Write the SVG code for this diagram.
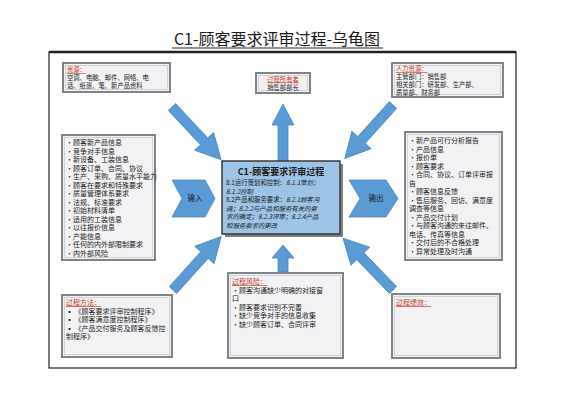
<svg xmlns="http://www.w3.org/2000/svg" width="565" height="400" viewBox="0 0 565 400">
<style>
text{font-family:"Noto Sans CJK SC","Noto Sans",sans-serif;fill:#1a1a1a}
.s{font-size:7px}
.t{font-size:6.3px}
.c{font-size:6.4px}
.r{fill:#c0392b;text-decoration:underline}
.box{fill:#f2f2f4;stroke:#7f8488;stroke-width:2}
.inner{fill:none;stroke:#c8cbce;stroke-width:0.8}
.arr{fill:#5b9bd5;stroke:#4a86bf;stroke-width:0.8}
</style>
<defs>
<path id="diag" d="M0,-5 L47,-5 L47,-13 L72,0 L47,13 L47,5 L0,5 Z"/>
</defs>
<rect width="565" height="400" fill="#ffffff"/>
<text x="277" y="45" text-anchor="middle" font-size="16" fill="#222">C1-顾客要求评审过程-乌龟图</text>
<line x1="172" y1="48" x2="383" y2="48" stroke="#222" stroke-width="1"/>
<rect x="49" y="52" width="467" height="316" fill="none" stroke="#222" stroke-width="1.2"/>
<line x1="49" y1="52" x2="516" y2="52" stroke="#222" stroke-width="2.5"/>

<g id="connectors">
<use href="#diag" class="arr" transform="translate(172,107) rotate(47)"/>
<use href="#diag" class="arr" transform="translate(393,105) rotate(132)"/>
<use href="#diag" class="arr" transform="translate(173,290) rotate(-48)"/>
<use href="#diag" class="arr" transform="translate(393,290) rotate(-134)"/>
<path class="arr" d="M278,162 L278,125 L272,125 L283,104 L294,125 L288,125 L288,162 Z"/>
<path class="arr" d="M278,272 L278,258 L272,258 L283,245 L294,258 L288,258 L288,272 Z"/>
</g>

<g id="input">
<path class="arr" d="M172,180 L205,180 L215,198.5 L205,217 L172,217 L182,198.5 Z"/>
<text x="195" y="201" text-anchor="middle" font-size="7.5">输入</text>
</g>
<g id="output">
<path class="arr" d="M349,180 L386,180 L398,198.5 L386,217 L349,217 L360,198.5 Z"/>
<text x="376" y="201" text-anchor="middle" font-size="7.5">输出</text>
</g>

<g id="resources">
<rect class="box" x="63" y="63" width="107" height="29"/>
<rect class="inner" x="65.5" y="65.5" width="102" height="24"/>
<text class="t r" x="67" y="72">资源：</text>
<text class="t" x="67" y="80">空调、电脑、邮件、网络、电</text>
<text class="t" x="67" y="88">话、纸张、笔、新产品资料</text>
</g>

<g id="owner">
<rect class="box" x="256" y="73" width="54" height="20"/>
<rect class="inner" x="258.5" y="75.5" width="49" height="15"/>
<text class="t r" x="283" y="81.5" text-anchor="middle">过程所有者</text>
<text class="t" x="283" y="89.5" text-anchor="middle">销售部部长</text>
</g>

<g id="hr">
<rect class="box" x="392" y="63" width="111" height="34"/>
<rect class="inner" x="394.5" y="65.5" width="106" height="29"/>
<text class="t r" x="396" y="71.3">人力资源：</text>
<text class="t" x="396" y="79.1">主管部门：销售部</text>
<text class="t" x="396" y="86.9">相关部门：研发部、生产部、</text>
<text class="t" x="396" y="94.7">质量部、财务部</text>
</g>

<g id="inputs">
<rect class="box" x="62" y="135" width="93" height="125"/>
<rect class="inner" x="64.5" y="137.5" width="88" height="120"/>
<text class="s" x="66" y="145">•顾客新产品信息</text>
<text class="s" x="66" y="153.5">•竞争对手信息</text>
<text class="s" x="66" y="162">•新设备、工装信息</text>
<text class="s" x="66" y="170.5">•顾客订单、合同、协议</text>
<text class="s" x="66" y="179">•生产、采购、质量水平能力</text>
<text class="s" x="66" y="187.5">•顾客在要求和特殊要求</text>
<text class="s" x="66" y="196">•质量管理体系要求</text>
<text class="s" x="66" y="204.5">•法规、标准要求</text>
<text class="s" x="66" y="213">•初始材料清单</text>
<text class="s" x="66" y="221.5">•适用的工装信息</text>
<text class="s" x="66" y="230">•以往报价信息</text>
<text class="s" x="66" y="238.5">•产能信息</text>
<text class="s" x="66" y="247">•任何的内外部限制要求</text>
<text class="s" x="66" y="255.5">•内外部风险</text>
</g>

<g id="process">
<rect x="225" y="164" width="118" height="73" fill="#7f7f7f"/>
<rect x="222" y="161" width="118" height="73" fill="#9dc3e6" stroke="#3a3a3a" stroke-width="1.5"/>
<text x="281" y="175" text-anchor="middle" font-size="9" font-weight="bold">C1-顾客要求评审过程</text>
<text class="c" x="226" y="185">8.1运行策划和控制：<tspan font-style="italic">8.1.1策划；</tspan></text>
<text class="c" x="226" y="193.5" font-style="italic">8.1.2控制</text>
<text class="c" x="226" y="202">8.2产品和服务要求：<tspan font-style="italic">8.2.1顾客沟</tspan></text>
<text class="c" x="226" y="210.5" font-style="italic">通；8.2.2与产品和服务有关的要</text>
<text class="c" x="226" y="219" font-style="italic">求的确定；8.2.3评审；8.2.4产品</text>
<text class="c" x="226" y="227.5" font-style="italic">和服务要求的更改</text>
</g>

<g id="outputs">
<rect class="box" x="405" y="132" width="97" height="128"/>
<rect class="inner" x="407.5" y="134.5" width="92" height="123"/>
<text class="s" x="409" y="143">•新产品可行分析报告</text>
<text class="s" x="409" y="151.5">•产品信息</text>
<text class="s" x="409" y="160">•报价单</text>
<text class="s" x="409" y="168.5">•顾客要求</text>
<text class="s" x="409" y="177">•合同、协议、订单评审报</text>
<text class="s" x="409" y="185.5">告</text>
<text class="s" x="409" y="194">•顾客信息反馈</text>
<text class="s" x="409" y="202.5">•售后服务、回访、满意度</text>
<text class="s" x="409" y="211">调查等信息</text>
<text class="s" x="409" y="219.5">•产品交付计划</text>
<text class="s" x="409" y="228">•与顾客沟通的来往邮件、</text>
<text class="s" x="409" y="236.5">电话、传真等信息</text>
<text class="s" x="409" y="245">•交付后的不合格处理</text>
<text class="s" x="409" y="253.5">•异常处理及时沟通</text>
</g>

<g id="methods">
<rect class="box" x="62" y="295" width="110" height="62"/>
<rect class="inner" x="64.5" y="297.5" width="105" height="57"/>
<text class="s r" x="66" y="305">过程方法：</text>
<text class="s" x="66" y="313.5">▪ 《顾客要求评审控制程序》</text>
<text class="s" x="66" y="322">▪ 《顾客满意度控制程序》</text>
<text class="s" x="66" y="330.5">▪ 《产品交付服务及顾客反馈控</text>
<text class="s" x="66" y="339">制程序》</text>
</g>

<g id="risks">
<rect class="box" x="228" y="273" width="115" height="85"/>
<rect class="inner" x="230.5" y="275.5" width="110" height="80"/>
<text class="s r" x="232" y="284">过程风险：</text>
<text class="s" x="232" y="292.5">•顾客沟通缺少明确的对接窗</text>
<text class="s" x="232" y="301">口</text>
<text class="s" x="232" y="309.5">•顾客要求识别不完善</text>
<text class="s" x="232" y="318">•缺少竞争对手的信息收集</text>
<text class="s" x="232" y="326.5">•缺少顾客订单、合同评审</text>
</g>

<g id="performance">
<rect class="box" x="392" y="294" width="108" height="64"/>
<rect class="inner" x="394.5" y="296.5" width="103" height="59"/>
<text class="s r" x="396" y="305">过程绩效：</text>
</g>
</svg>
